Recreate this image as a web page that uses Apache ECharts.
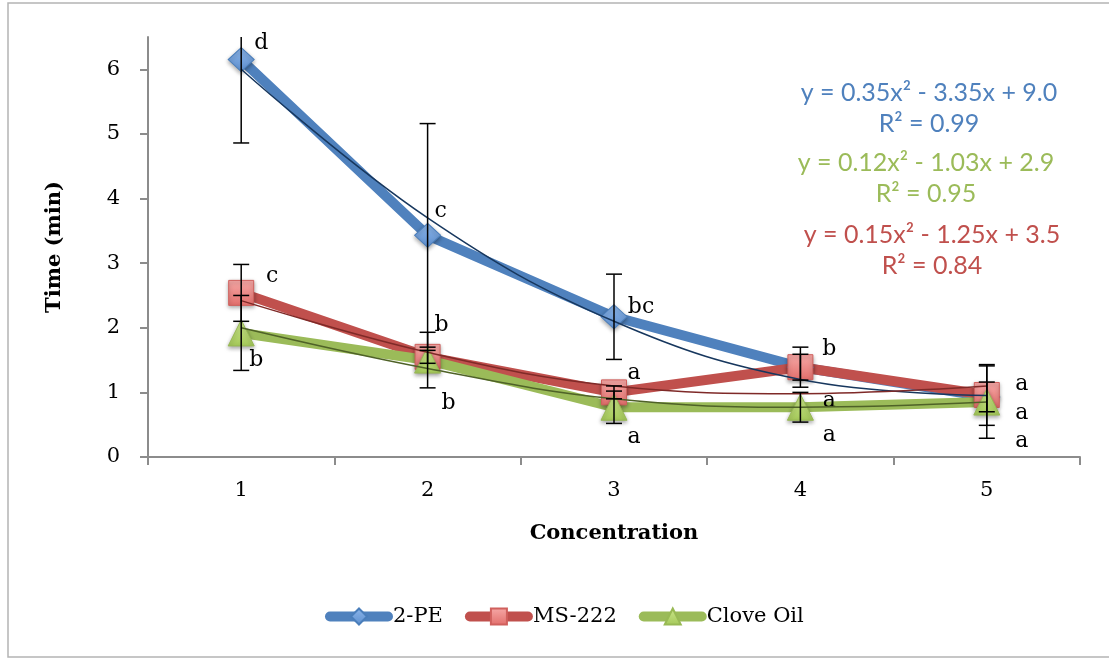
<!DOCTYPE html>
<html>
<head>
<meta charset="utf-8">
<script src="https://cdn.jsdelivr.net/npm/echarts@6/dist/echarts.min.js"></script>
<style>
  html, body { margin: 0; padding: 0; background: #fff; }
  #chart { width: 1109px; height: 659px; }
</style>
</head>
<body>
<div id="chart"></div>
<script>
// categories and ticks
const concentrations = ['1', '2', '3', '4', '5'];
const yTicks = [0, 1, 2, 3, 4, 5, 6];

// 2-PE
const pe2Mean = [6.15, 3.43, 2.17, 1.39, 0.93];
const pe2Err = [1.29, 1.73, 0.66, 0.2, 0.23];
const pe2Letters = ['d', 'c', 'bc', 'a', 'a'];
const pe2Trend = [6.0, 3.7, 2.1, 1.2, 0.95];

// MS-222
const ms222Mean = [2.54, 1.55, 1.0, 1.39, 0.96];
const ms222Err = [0.44, 0.1, 0.1, 0.31, 0.47];
const ms222Letters = ['c', 'b', 'a', 'b', 'a'];
const ms222Trend = [2.42, 1.62, 1.1, 0.98, 1.1];

// Clove Oil
const cloveMean = [1.92, 1.5, 0.77, 0.77, 0.85];
const cloveErr = [0.58, 0.43, 0.25, 0.23, 0.56];
const cloveLetters = ['b', 'b', 'a', 'a', 'a'];
const cloveTrend = [2.0, 1.37, 0.9, 0.77, 0.85];

const equations = [
  ['y = 0.35x\u00b2 - 3.35x + 9.0', 'R\u00b2 = 0.99'],
  ['y = 0.12x\u00b2 - 1.03x + 2.9', 'R\u00b2 = 0.95'],
  ['y = 0.15x\u00b2 - 1.25x + 3.5', 'R\u00b2 = 0.84'],
];

const SERIF = 'DejaVu Serif';
const SANS = 'Lato';

// label offsets (px) from each point
const pe2Offsets = [[20, -16], [13, -24], [27, -10], [29, 34], [35, -13]];
const ms222Offsets = [[31, -17], [14, -32], [20, -19], [29, -18], [35, 18]];
const cloveOffsets = [[15, 27], [21, 43], [20, 30], [29, 28], [35, 39]];

function withLabels(mean, letters, offsets) {
  return mean.map((v, i) => ({
    value: v,
    label: { show: true, formatter: letters[i], offset: offsets[i] },
  }));
}

function grad(top, bottom) {
  return new echarts.graphic.LinearGradient(0, 0, 0, 1, [
    { offset: 0, color: top },
    { offset: 1, color: bottom },
  ]);
}

function mainSeries(name, mean, letters, offsets, color, symbol, size, fill, border) {
  return {
    name,
    type: 'line',
    z: 2,
    data: withLabels(mean, letters, offsets),
    symbol,
    symbolSize: size,
    lineStyle: { color, width: 10, cap: 'round', join: 'round' },
    itemStyle: {
      color: fill,
      borderColor: border,
      borderWidth: 1,
      shadowBlur: 4,
      shadowOffsetY: 2,
      shadowColor: 'rgba(0,0,0,0.35)',
    },
    label: {
      position: 'inside',
      color: '#000',
      fontFamily: SERIF,
      fontSize: 22,
    },
    emphasis: { disabled: true },
  };
}

function trendSeries(name, values, color) {
  return {
    name,
    type: 'line',
    z: 3,
    data: values,
    smooth: 0.4,
    showSymbol: false,
    lineStyle: { color, width: 1.5 },
    emphasis: { disabled: true },
    silent: true,
  };
}

function errorSeries(name, mean, err) {
  return {
    name,
    type: 'custom',
    z: 4,
    clip: true,
    silent: true,
    data: mean.map((m, i) => [i, m - err[i], m + err[i]]),
    encode: { x: 0, y: [1, 2] },
    renderItem(params, api) {
      const x = api.value(0);
      const lo = api.coord([x, api.value(1)]);
      const hi = api.coord([x, api.value(2)]);
      const w = 8;
      const st = { stroke: '#000', lineWidth: 1.5 };
      return {
        type: 'group',
        children: [
          { type: 'line', shape: { x1: lo[0], y1: lo[1], x2: hi[0], y2: hi[1] }, style: st },
          { type: 'line', shape: { x1: lo[0] - w, y1: lo[1], x2: lo[0] + w, y2: lo[1] }, style: st },
          { type: 'line', shape: { x1: hi[0] - w, y1: hi[1], x2: hi[0] + w, y2: hi[1] }, style: st },
        ],
      };
    },
  };
}

const eqColors = ['#4F81BD', '#9BBB59', '#C0504D'];
const eqCenters = [[929, 93, 124], [926, 163, 194], [932, 235, 266]];
const eqGraphics = [];
equations.forEach((eq, i) => {
  const [cx, y1, y2] = eqCenters[i];
  eqGraphics.push({
    type: 'text', x: cx, y: y1,
    style: { text: eq[0], fill: eqColors[i], font: '25px ' + SANS, textAlign: 'center', textVerticalAlign: 'middle' },
  });
  eqGraphics.push({
    type: 'text', x: cx, y: y2,
    style: { text: eq[1], fill: eqColors[i], font: '25px ' + SANS, textAlign: 'center', textVerticalAlign: 'middle' },
  });
});

const myChart = echarts.init(document.getElementById('chart'));
const option = {
  animation: false,
  grid: { left: 148, right: 29, top: 37, bottom: 202 },
  legend: {
    data: ['2-PE', 'MS-222', 'Clove Oil'],
    left: 320,
    top: 601,
    itemWidth: 58,
    itemHeight: 20,
    itemGap: 22,
    lineStyle: { width: 10, cap: 'round' },
    textStyle: { fontFamily: SERIF, fontSize: 21, color: '#000' },
  },
  xAxis: {
    type: 'category',
    data: concentrations,
    boundaryGap: true,
    name: 'Concentration',
    nameLocation: 'middle',
    nameGap: 66,
    nameTextStyle: { fontFamily: SERIF, fontSize: 21, fontWeight: 'bold', color: '#000' },
    axisLine: { lineStyle: { color: '#8C8C8C', width: 2 } },
    axisTick: { show: true, length: 8, lineStyle: { color: '#8C8C8C', width: 2 } },
    axisLabel: { fontFamily: SERIF, fontSize: 21, color: '#000', margin: 23 },
    splitLine: { show: false },
  },
  yAxis: {
    type: 'value',
    min: 0,
    max: 6.5,
    interval: 1,
    name: 'Time (min)',
    nameLocation: 'middle',
    nameGap: 83,
    nameTextStyle: { fontFamily: SERIF, fontSize: 21, fontWeight: 'bold', color: '#000' },
    axisLine: { show: true, lineStyle: { color: '#8C8C8C', width: 2 } },
    axisTick: { show: true, length: 8, customValues: yTicks, lineStyle: { color: '#8C8C8C', width: 2 } },
    axisLabel: { fontFamily: SERIF, fontSize: 21, color: '#000', margin: 28, customValues: yTicks },
    splitLine: { show: false },
  },
  graphic: [
    {
      type: 'rect',
      shape: { x: 8, y: 3, width: 1200, height: 654 },
      style: { fill: 'none', stroke: '#B4B4B4', lineWidth: 1.5 },
      z: -10,
      silent: true,
    },
  ].concat(eqGraphics),
  series: [
    mainSeries('2-PE', pe2Mean, pe2Letters, pe2Offsets, '#4F81BD', 'diamond', [26, 24],
      grad('#8DB6EA', '#5D8FCF'), '#4A7EBB'),
    mainSeries('MS-222', ms222Mean, ms222Letters, ms222Offsets, '#C0504D', 'rect', 25,
      grad('#F6A9A7', '#E26E6B'), '#D0605D'),
    mainSeries('Clove Oil', cloveMean, cloveLetters, cloveOffsets, '#9BBB59', 'triangle', 26,
      grad('#CBE68B', '#A5C95A'), '#98B954'),
    trendSeries('2-PE trend', pe2Trend, '#17375E'),
    trendSeries('MS-222 trend', ms222Trend, '#7F2A28'),
    trendSeries('Clove Oil trend', cloveTrend, '#4F6228'),
    errorSeries('2-PE err', pe2Mean, pe2Err),
    errorSeries('MS-222 err', ms222Mean, ms222Err),
    errorSeries('Clove Oil err', cloveMean, cloveErr),
  ],
};
myChart.setOption(option);
</script>
</body>
</html>
